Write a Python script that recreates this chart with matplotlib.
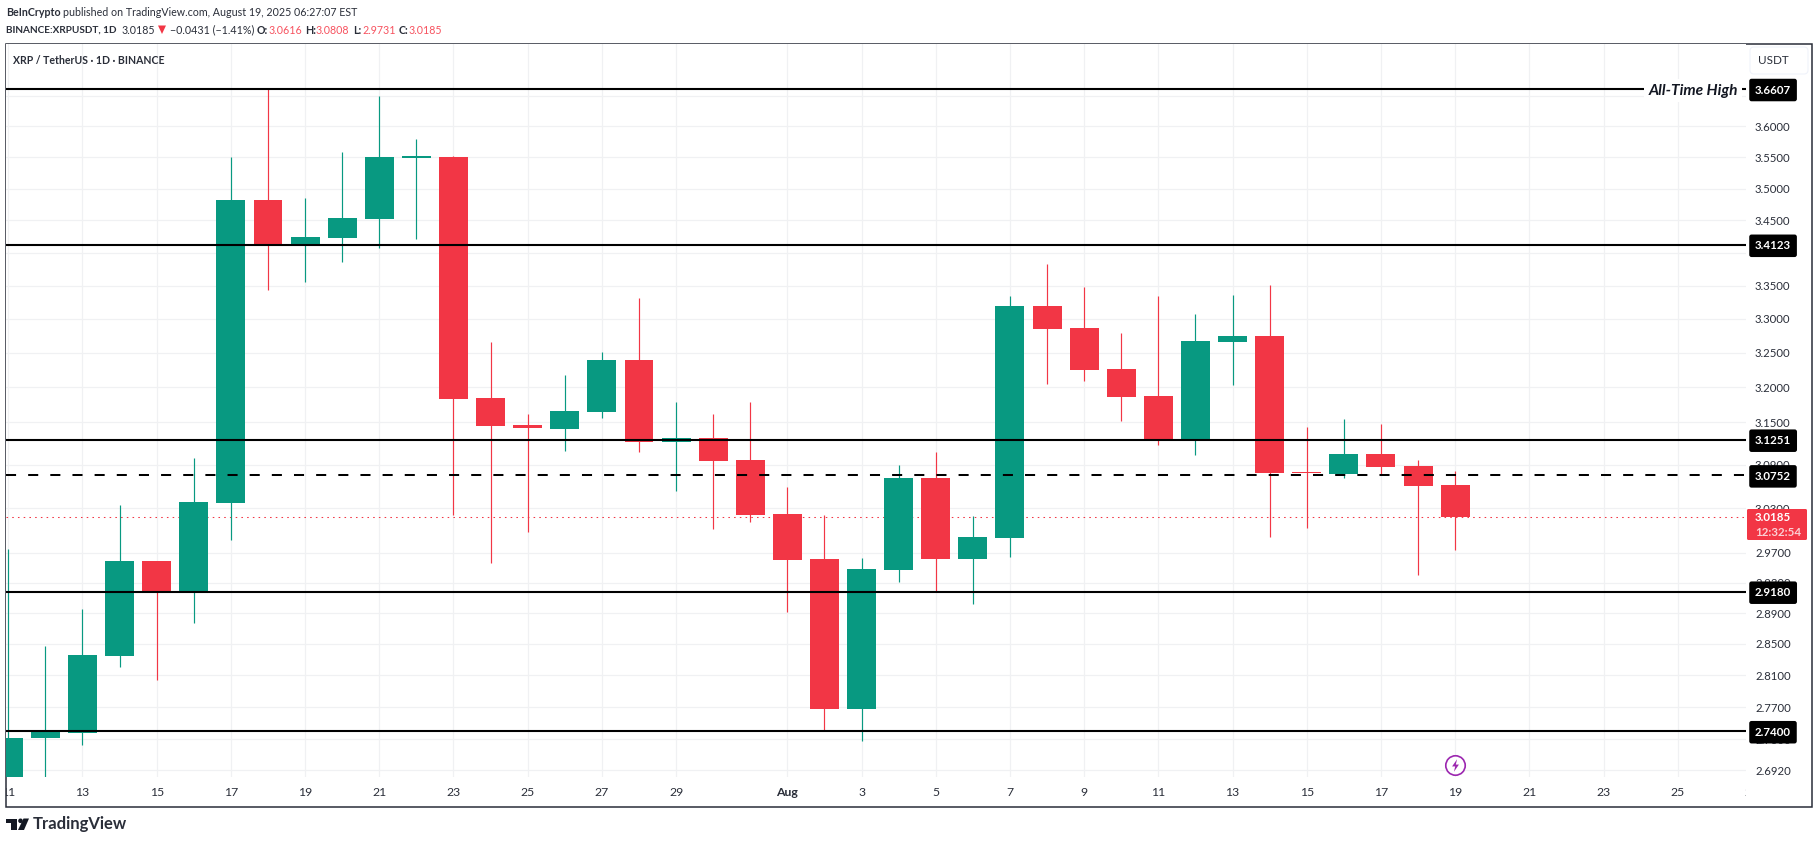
import matplotlib
matplotlib.use('Agg')
import matplotlib.pyplot as plt
from matplotlib.patches import Rectangle, FancyBboxPatch, Polygon, Circle
from matplotlib.transforms import Bbox, blended_transform_factory

plt.rcParams['font.family'] = ['Lato', 'DejaVu Sans']

GREEN = '#089981'
RED = '#f23645'
GRID = '#f0f1f3'
TEXT = '#2a2e39'
HEAD_SIZE = 7.7

# daily candles, index 0 = Jul 11
opens = [2.670, 2.7314, 2.7375, 2.8344, 2.9587, 2.9175, 3.0369, 3.4819, 3.4134, 3.4227,
         3.4522, 3.5490, 3.5502, 3.1843, 3.1459, 3.1402, 3.1644, 3.2395, 3.1217, 3.1273,
         3.0963, 3.0220, 2.9614, 2.7675, 2.9467, 3.0714, 2.9614, 2.9894, 3.3191, 3.2865,
         3.2263, 3.1872, 3.1259, 3.2658, 3.2746, 3.0796, 3.0769, 3.1047, 3.0878, 3.0616]
highs = [2.9747, 2.8472, 2.8954, 3.0341, 2.9587, 3.0991, 3.5502, 3.6607, 3.4851, 3.5582,
         3.6491, 3.5790, 3.5518, 3.2658, 3.1616, 3.2175, 3.2511, 3.3312, 3.1786, 3.1616,
         3.1786, 3.0589, 3.0206, 2.9627, 3.0892, 3.1076, 3.0192, 3.3342, 3.3826, 3.3478,
         3.2791, 3.3342, 3.3073, 3.3357, 3.3508, 3.1430, 3.1545, 3.1473, 3.0963, 3.0808]
lows = [2.660, 2.680, 2.7229, 2.8204, 2.8041, 2.8772, 2.9867, 3.3433, 3.3554, 3.3857,
        3.4073, 3.4211, 3.0206, 2.9561, 2.9975, 3.1090, 3.1559, 3.1076, 3.0534, 3.0014,
        3.0110, 2.8915, 2.7413, 2.7278, 2.9308, 2.9188, 2.9019, 2.9640, 3.2045, 3.2088,
        3.1516, 3.1175, 3.1033, 3.2031, 2.9907, 3.0027, 3.0714, 3.0769, 2.9400, 2.9731]
closes = [2.7314, 2.7405, 2.8357, 2.9587, 2.9175, 3.0383, 3.4819, 3.4134, 3.4242, 3.4537,
          3.5502, 3.5512, 3.1829, 3.1445, 3.1416, 3.1658, 3.2395, 3.1217, 3.1273, 3.0949,
          3.0206, 2.9601, 2.7675, 2.9481, 3.0714, 2.9614, 2.9907, 3.3191, 3.2850, 3.2249,
          3.1858, 3.1259, 3.2673, 3.2746, 3.0782, 3.0782, 3.1047, 3.0864, 3.0603, 3.0185]

# support / resistance lines drawn on the chart
solid_levels = [3.6607, 3.4123, 3.1251, 2.9180, 2.7400]
dashed_level = 3.0752
last_price = 3.0185

price_ticks = [3.65, 3.60, 3.55, 3.50, 3.45, 3.40, 3.35, 3.30, 3.25, 3.20, 3.15, 3.09,
               3.03, 2.97, 2.93, 2.89, 2.85, 2.81, 2.77, 2.73, 2.692]
date_ticks = [0, 2, 4, 6, 8, 10, 12, 14, 16, 18, 21, 23, 25, 27, 29, 31, 33, 35, 37, 39, 41, 43, 45, 47]
date_labels = ['11', '13', '15', '17', '19', '21', '23', '25', '27', '29', 'Aug', '3', '5', '7', '9',
               '11', '13', '15', '17', '19', '21', '23', '25', '27']

W, H = 1819, 843
fig = plt.figure(figsize=(W / 100, H / 100), dpi=100, facecolor='white')
ax = fig.add_axes([6 / W, (H - 777) / H, 1740 / W, 733 / H])
ax.set_yscale('log')
ax.set_xlim(-0.062, 46.84)
ax.set_ylim(2.684, 3.7358)
for s in ax.spines.values():
    s.set_visible(False)

ax.set_axisbelow(True)
ax.yaxis.tick_right()
ax.yaxis.set_major_locator(plt.FixedLocator(price_ticks))
ax.yaxis.set_minor_locator(plt.NullLocator())
ax.yaxis.set_major_formatter(plt.FuncFormatter(lambda v, p: '%.4f' % v))
ax.tick_params(axis='y', length=0, pad=6.5, labelsize=8.2, labelcolor=TEXT)
ax.set_xticks([d for d in date_ticks if d < 46.84])
ax.tick_params(axis='x', length=0, labelbottom=False)
ax.grid(True, color=GRID, lw=0.9)

# labels under the chart, first and last get cut by the pane like in the original
clip = Bbox([[6, 0], [1746, H]])
xt = blended_transform_factory(ax.transData, fig.transFigure)
for d, lab in zip(date_ticks, date_labels):
    t = ax.text(d, (H - 792) / H, lab, transform=xt, ha='center', va='center', fontsize=8.8, color=TEXT,
                fontweight='bold' if lab == 'Aug' else 'normal')
    t.set_clip_on(True)
    t.set_clip_box(clip)

# candles
for i in range(len(opens)):
    col = GREEN if closes[i] >= opens[i] else RED
    ax.vlines(i, lows[i], highs[i], color=col, lw=0.85, zorder=2)
    ax.bar(i, abs(closes[i] - opens[i]), bottom=min(opens[i], closes[i]), width=0.78, color=col, lw=0, zorder=2.1)

ax.axhline(last_price, color=RED, lw=0.75, ls=(0, (1.5, 4)), zorder=1.9)
for lvl in solid_levels:
    ax.axhline(lvl, color='black', lw=1.5, zorder=3)
ax.axhline(dashed_level, color='black', lw=1.45, ls=(0, (5, 6)), zorder=3)

# axis price tags
yt = blended_transform_factory(ax.transAxes, ax.transData)
tag_x = 1 + 9 / 1740
for lvl in solid_levels + [dashed_level]:
    ax.text(tag_x, lvl, '%.4f' % lvl, transform=yt, ha='left', va='center_baseline', color='white',
            fontsize=8.3, fontweight='bold', clip_on=False, zorder=10,
            bbox=dict(boxstyle='round,pad=0.5,rounding_size=0.2', fc='black', ec='none'))

ax.text(1 - 8 / 1740, 3.6607, 'All-Time High', transform=yt, ha='right', va='center_baseline', color='#131722',
        fontsize=11.2, fontstyle='italic', fontweight='bold', zorder=6,
        bbox=dict(fc='white', ec='none', pad=3))

# lightning mark under the last candle
ax.plot(39, 2.698, 'o', ms=14, mfc='white', mec='#9c27b0', mew=1.2, zorder=4)
ax.plot(39, 2.698, marker=[(0.25, 1), (-0.55, -0.15), (-0.05, -0.15), (-0.25, -1), (0.55, 0.15), (0.05, 0.15)],
        ms=9, color='#9c27b0', mew=0, zorder=5)

# chrome around the chart, in pixel coordinates
ov = fig.add_axes([0, 0, 1, 1], zorder=-1)
ov.set_xlim(0, W)
ov.set_ylim(H, 0)
ov.axis('off')
ov.add_patch(Rectangle((6.3, 43.5), 1805.7, 763.5, fc='none', ec=TEXT, lw=1.1))

top = fig.add_axes([0, 0, 1, 1], zorder=20)
top.set_xlim(0, W)
top.set_ylim(H, 0)
top.axis('off')
top.patch.set_alpha(0)

top.add_patch(FancyBboxPatch((1750, 47), 58, 27, boxstyle='round,pad=0,rounding_size=4', fc='white', ec='#f0f3fa', lw=0.8))
top.text(1773, 61, 'USDT', ha='center', va='center', fontsize=8.4, color=TEXT)

top.add_patch(FancyBboxPatch((1747, 509), 60, 31, boxstyle='round,pad=0,rounding_size=1.5', fc=RED, ec='none'))
top.text(1755, 517.5, '3.0185', ha='left', va='center', fontsize=8.3, fontweight='bold', color='white')
top.text(1755, 532, '12:32:54', ha='left', va='center', fontsize=8.3, color='#fbd0d4', fontweight='bold')

top.text(6, 13, 'BeInCrypto', ha='left', va='center', fontsize=HEAD_SIZE, fontweight='bold', color=TEXT)
top.text(63, 13, 'published on TradingView.com, August 19, 2025 06:27:07 EST', ha='left', va='center', fontsize=HEAD_SIZE, color=TEXT)

top.text(6, 30, 'BINANCE:XRPUSDT, 1D', ha='left', va='center', fontsize=7.2, fontweight='bold', color=TEXT)
top.text(122, 30, '3.0185', ha='left', va='center', fontsize=HEAD_SIZE, color=TEXT)
top.add_patch(Polygon([(158, 25.5), (166, 25.5), (162, 34)], fc=RED, ec='none'))
top.text(170, 30, '\u22120.0431 (\u22121.41%)', ha='left', va='center', fontsize=HEAD_SIZE, color=TEXT)
for x1, x2, name, val in [(257, 269, 'O:', '3.0616'), (305, 316, 'H:', '3.0808'), (353, 362, 'L:', '2.9731'), (399, 409, 'C:', '3.0185')]:
    top.text(x1, 30, name, ha='left', va='center', fontsize=HEAD_SIZE, fontweight='bold', color=TEXT)
    top.text(x2, 30, val, ha='left', va='center', fontsize=HEAD_SIZE, color='#f7525f')

top.text(13, 61, 'XRP / TetherUS \u00b7 1D \u00b7 BINANCE', ha='left', va='center', fontsize=7.6, fontweight='bold', color=TEXT)

# TradingView logo
top.add_patch(Polygon([(6, 818.5), (17, 818.5), (17, 830), (11, 830), (11, 823), (6, 823)], fc='#131722', ec='none'))
top.add_patch(Circle((20.5, 820.8), 2.3, fc='#131722', ec='none'))
top.add_patch(Polygon([(23.5, 818.5), (29, 818.5), (24, 830), (18, 830)], fc='#131722', ec='none'))
top.text(33, 824.5, 'TradingView', ha='left', va='center', fontsize=12, fontweight='bold', color='#2a2e39')

fig.savefig('out.png', dpi=100, facecolor='white')
